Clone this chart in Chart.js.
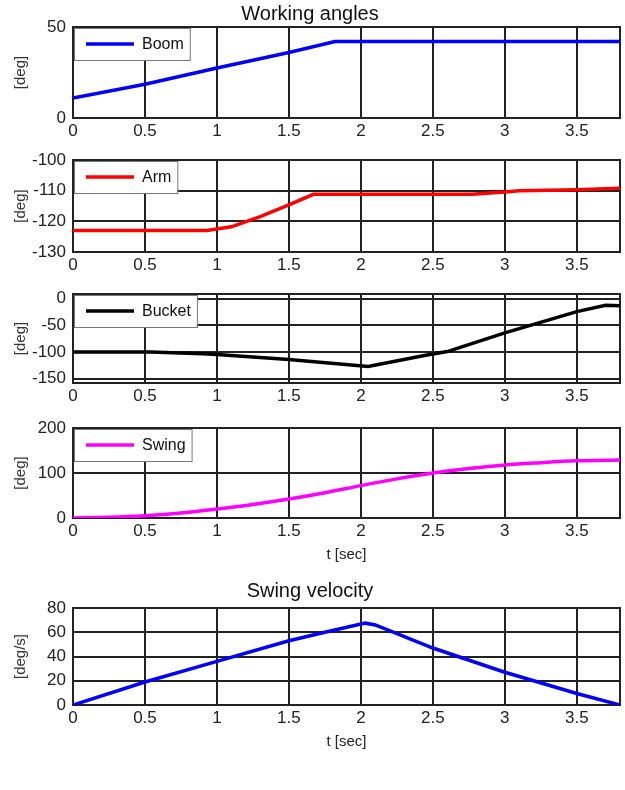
<!DOCTYPE html>
<html>
<head>
<meta charset="utf-8">
<script src="https://cdn.jsdelivr.net/npm/chart.js@4.4.1/dist/chart.umd.min.js"></script>
<style>
    body { margin: 0; background: #fff; }
    .box { position: absolute; left: 0; width: 625px; }
</style>
</head>
<body>
<div class="box" style="top:0px;height:148px"><canvas id="chart1"></canvas></div>
<div class="box" style="top:140px;height:142px"><canvas id="chart2"></canvas></div>
<div class="box" style="top:274px;height:139px"><canvas id="chart3"></canvas></div>
<div class="box" style="top:408px;height:160px"><canvas id="chart4"></canvas></div>
<div class="box" style="top:579px;height:176px"><canvas id="chart5"></canvas></div>
<script>
const boomTime = [0, 0.5, 1, 1.5, 1.82, 2.5, 3, 3.5, 3.8]
const boomDeg = [11, 18.5, 27.5, 36, 42, 42, 42, 42, 42]

const armTime = [0, 0.5, 0.93, 1.1, 1.3, 1.5, 1.67, 2, 2.5, 2.77, 3, 3.1, 3.5, 3.8]
const armDeg = [-123, -123, -123, -121.8, -118.5, -114.6, -111.2, -111.2, -111.2, -111.2, -110.4, -110, -109.7, -109.2]

const bucketTime = [0, 0.54, 0.9, 1, 1.5, 2.05, 2.45, 2.6, 3, 3.5, 3.7, 3.8]
const bucketDeg = [-100, -100, -103, -104.5, -114, -127, -106, -99, -64, -24, -12, -13]

const swingTime = [0, 0.25, 0.5, 0.75, 1, 1.25, 1.5, 1.75, 2, 2.25, 2.5, 2.75, 3, 3.25, 3.5, 3.8]
const swingDeg = [0, 1.5, 5, 11, 20, 30, 42, 56, 72, 87, 100, 110, 118, 123, 127, 129]

const velTime = [0, 0.5, 1, 1.5, 1.75, 2.03, 2.1, 2.5, 3, 3.5, 3.8]
const velDegS = [0, 19, 36, 53, 60, 67.5, 66, 47, 27, 9.5, 0]

const FONT = '"Liberation Sans", Arial, sans-serif'
Chart.defaults.font.family = FONT
Chart.defaults.color = '#222'

const framePlugin = {
    id: 'frame',
    beforeDatasetsDraw(chart) {
        const { ctx, chartArea: a } = chart
        ctx.save()
        ctx.strokeStyle = '#222'
        ctx.lineWidth = 2
        ctx.strokeRect(a.left, a.top, a.right - a.left, a.bottom - a.top)
        ctx.restore()
    }
}

const legendPlugin = {
    id: 'legendBox',
    afterDatasetsDraw(chart) {
        const { ctx, chartArea: a } = chart
        const ds = chart.data.datasets[0]
        ctx.save()
        ctx.font = '16px ' + FONT
        const tw = ctx.measureText(ds.label).width
        const x = a.left + 1, y = a.top + 1
        const w = 68 + tw + 6, h = 32
        ctx.fillStyle = '#fff'
        ctx.fillRect(x, y, w, h)
        ctx.strokeStyle = '#777'
        ctx.lineWidth = 1
        ctx.strokeRect(x + 0.5, y + 0.5, w, h)
        ctx.strokeStyle = ds.borderColor
        ctx.lineWidth = 3.5
        ctx.beginPath()
        ctx.moveTo(x + 12, y + h / 2)
        ctx.lineTo(x + 60, y + h / 2)
        ctx.stroke()
        ctx.fillStyle = '#111'
        ctx.textBaseline = 'middle'
        ctx.fillText(ds.label, x + 68, y + h / 2 + 1)
        ctx.restore()
    }
}

function printChart(id, cfg) {
    const points = cfg.time.map((t, i) => ({ x: t, y: cfg.values[i] }))
    const data = {
        datasets: [{
            label: cfg.label,
            data: points,
            borderColor: cfg.color,
            borderWidth: 3.5,
            pointRadius: 0,
            cubicInterpolationMode: cfg.smooth ? 'monotone' : 'default',
            tension: 0
        }]
    }

    const options = {
        responsive: true,
        maintainAspectRatio: false,
        animation: false,
        layout: { padding: { top: cfg.title ? 0 : 20, right: 5, left: 0, bottom: 0 } },
        plugins: {
            legend: { display: false },
            tooltip: { enabled: false },
            title: {
                display: !!cfg.title,
                text: cfg.title,
                color: '#111',
                font: { size: 20, weight: 'normal' },
                padding: cfg.titlePad
            }
        },
        scales: {
            x: {
                type: 'linear',
                min: 0,
                max: 3.8,
                grid: { color: '#222', lineWidth: 2, drawTicks: false },
                border: { display: false },
                ticks: {
                    stepSize: 0.5,
                    includeBounds: false,
                    padding: 3,
                    font: { size: 17 },
                    callback: value => String(Number(value.toFixed(2)))
                },
                title: {
                    display: !!cfg.xTitle,
                    text: 't [sec]',
                    color: '#222',
                    font: { size: 15 },
                    padding: { top: 0, bottom: 4 }
                },
                afterFit(scale) { scale.height = cfg.xTitle ? 50 : 30 }
            },
            y: {
                min: cfg.yMin,
                max: cfg.yMax,
                grid: { color: '#222', lineWidth: 2, drawTicks: false },
                border: { display: false },
                ticks: { stepSize: cfg.yStep, includeBounds: false, padding: 7, font: { size: 17 } },
                title: {
                    display: true,
                    text: cfg.yTitle,
                    color: '#333',
                    font: { size: 15 },
                    padding: { top: 12, bottom: 0 }
                },
                afterFit(scale) { scale.width = 73 }
            }
        }
    }

    const plugins = [framePlugin]
    if (cfg.legend) plugins.push(legendPlugin)

    new Chart(id, { type: 'line', data, options, plugins })
}

printChart('chart1', {
    time: boomTime, values: boomDeg, label: 'Boom', color: '#0000ff', legend: true,
    yMin: 0, yMax: 50, yStep: 50, yTitle: '[deg]',
    title: 'Working angles', titlePad: { top: 2, bottom: 1 }
})
printChart('chart2', {
    time: armTime, values: armDeg, label: 'Arm', color: '#ff0000', legend: true,
    yMin: -130, yMax: -100, yStep: 10, yTitle: '[deg]'
})
printChart('chart3', {
    time: bucketTime, values: bucketDeg, label: 'Bucket', color: '#000000', legend: true,
    yMin: -158, yMax: 9, yStep: 50, yTitle: '[deg]'
})
printChart('chart4', {
    time: swingTime, values: swingDeg, label: 'Swing', color: '#ff00ff', legend: true, smooth: true,
    yMin: 0, yMax: 200, yStep: 100, yTitle: '[deg]', xTitle: true
})
printChart('chart5', {
    time: velTime, values: velDegS, label: 'Swing velocity', color: '#0000ff',
    yMin: 0, yMax: 80, yStep: 20, yTitle: '[deg/s]', xTitle: true,
    title: 'Swing velocity', titlePad: { top: 0, bottom: 5 }
})
</script>
</body>
</html>
